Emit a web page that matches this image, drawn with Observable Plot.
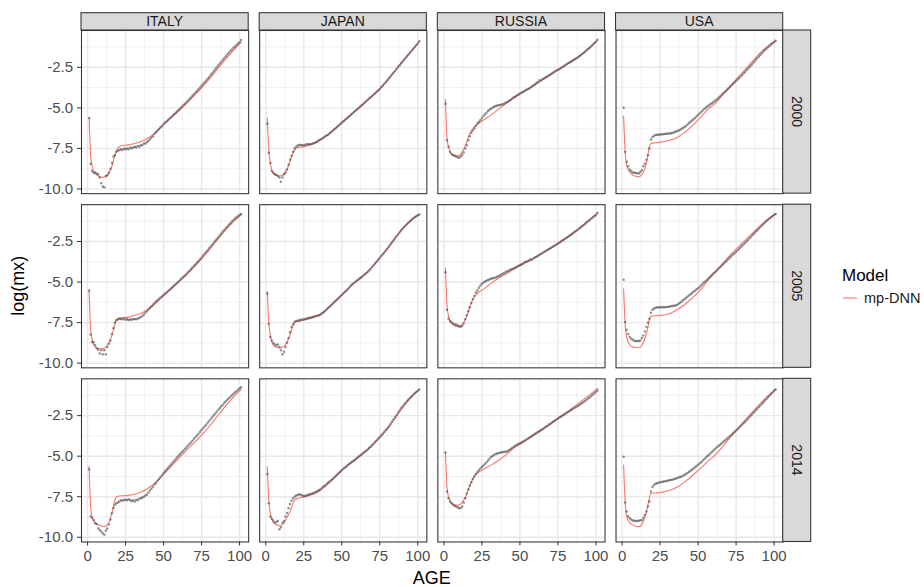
<!DOCTYPE html>
<html><head><meta charset="utf-8">
<script src="https://cdn.jsdelivr.net/npm/d3@7"></script>
<script src="https://cdn.jsdelivr.net/npm/@observablehq/plot@0.6"></script>
<style>
body{margin:0;background:#fff;font-family:"Liberation Sans",Arial,sans-serif;}
#chart{position:relative;width:924px;height:587px;}
</style></head><body><div id="chart"></div>
<script>
const COUNTRIES = ["ITALY","JAPAN","RUSSIA","USA"];
const YEARS = ["2000","2005","2014"];
const AGES = d3.range(1, 102);
const MODEL_AGES = [1,2,3,4,5,6,7,9,11,13,15,16,17,18,19,21,23,26,31,36,41,46,51,56,61,66,71,76,81,86,91,96,101];
const X_TICKS = [0,25,50,75,100];
const X_MINOR = [12.5,37.5,62.5,87.5];
const Y_TICKS = [-10,-7.5,-5,-2.5];
const Y_MINOR = [-8.75,-6.25,-3.75,-1.25];
const SERIES_NAME = "mp-DNN";

const OBS_ITALY_2000 = [-5.63,-8.45,-8.9,-9.0,-8.98,-9.05,-9.1,-9.3,-9.65,-9.85,
-9.9,-9.2,-9.15,-9.0,-8.75,-8.4,-8.0,-7.9,-7.7,-7.65,
-7.6,-7.55,-7.6,-7.5,-7.55,-7.5,-7.55,-7.45,-7.5,-7.45,
-7.4,-7.45,-7.35,-7.4,-7.3,-7.3,-7.2,-7.2,-7.1,-7.05,
-6.95,-6.85,-6.75,-6.6,-6.5,-6.4,-6.3,-6.2,-6.1,-6.0,
-5.9,-5.82,-5.73,-5.65,-5.56,-5.47,-5.38,-5.3,-5.2,-5.12,
-5.02,-4.93,-4.84,-4.75,-4.65,-4.55,-4.46,-4.36,-4.26,-4.16,
-4.06,-3.96,-3.85,-3.75,-3.64,-3.53,-3.42,-3.31,-3.2,-3.09,
-2.97,-2.86,-2.74,-2.62,-2.5,-2.38,-2.27,-2.15,-2.03,-1.92,
-1.81,-1.7,-1.6,-1.5,-1.4,-1.3,-1.21,-1.12,-1.03,-0.95,
-0.82];
const OBS_JAPAN_2000 = [-5.98,-7.76,-8.4,-8.9,-9.0,-9.1,-9.12,-9.2,-9.3,-9.55,
-9.3,-9.1,-9.0,-8.8,-8.5,-8.2,-7.95,-7.7,-7.5,-7.4,
-7.32,-7.3,-7.28,-7.3,-7.3,-7.28,-7.25,-7.25,-7.25,-7.23,
-7.2,-7.17,-7.12,-7.07,-7.0,-6.95,-6.9,-6.83,-6.77,-6.71,
-6.65,-6.57,-6.49,-6.41,-6.33,-6.25,-6.16,-6.08,-6.0,-5.92,
-5.83,-5.75,-5.67,-5.59,-5.51,-5.43,-5.35,-5.26,-5.18,-5.1,
-5.02,-4.93,-4.85,-4.77,-4.69,-4.6,-4.52,-4.43,-4.35,-4.27,
-4.18,-4.1,-4.01,-3.93,-3.83,-3.72,-3.62,-3.51,-3.4,-3.29,
-3.18,-3.06,-2.95,-2.83,-2.72,-2.6,-2.48,-2.37,-2.25,-2.14,
-2.02,-1.91,-1.8,-1.69,-1.58,-1.47,-1.36,-1.25,-1.14,-1.03,
-0.9];
const OBS_RUSSIA_2000 = [-4.75,-7.0,-7.4,-7.7,-7.85,-7.9,-7.95,-8.0,-8.05,-8.08,
-8.0,-7.9,-7.75,-7.5,-7.3,-7.0,-6.75,-6.55,-6.4,-6.25,
-6.1,-5.95,-5.85,-5.75,-5.62,-5.5,-5.4,-5.3,-5.2,-5.12,
-5.05,-4.98,-4.93,-4.89,-4.86,-4.84,-4.82,-4.8,-4.77,-4.72,
-4.67,-4.62,-4.56,-4.5,-4.42,-4.35,-4.3,-4.24,-4.19,-4.12,
-4.07,-4.02,-3.96,-3.9,-3.85,-3.8,-3.74,-3.68,-3.6,-3.55,
-3.45,-3.42,-3.3,-3.32,-3.22,-3.18,-3.12,-3.06,-3.0,-2.94,
-2.88,-2.82,-2.76,-2.7,-2.65,-2.6,-2.54,-2.48,-2.42,-2.36,
-2.3,-2.24,-2.18,-2.12,-2.06,-2.0,-1.95,-1.89,-1.82,-1.75,
-1.68,-1.6,-1.52,-1.42,-1.35,-1.28,-1.18,-1.1,-1.0,-0.92,
-0.8];
const OBS_USA_2000 = [-4.99,-7.71,-8.33,-8.6,-8.8,-8.9,-8.98,-9.0,-9.02,-9.03,
-9.05,-8.95,-8.84,-8.6,-8.45,-8.2,-7.92,-7.5,-6.95,-6.8,
-6.72,-6.68,-6.66,-6.65,-6.64,-6.63,-6.62,-6.61,-6.6,-6.6,
-6.58,-6.57,-6.55,-6.52,-6.48,-6.44,-6.4,-6.36,-6.3,-6.24,
-6.18,-6.12,-6.03,-5.94,-5.86,-5.78,-5.7,-5.62,-5.53,-5.44,
-5.35,-5.26,-5.16,-5.07,-4.99,-4.92,-4.85,-4.78,-4.72,-4.65,
-4.58,-4.5,-4.42,-4.33,-4.24,-4.15,-4.06,-3.97,-3.88,-3.79,
-3.7,-3.61,-3.52,-3.43,-3.34,-3.25,-3.16,-3.07,-2.97,-2.87,
-2.77,-2.67,-2.57,-2.47,-2.37,-2.26,-2.15,-2.04,-1.93,-1.83,
-1.73,-1.63,-1.53,-1.44,-1.35,-1.26,-1.18,-1.1,-1.02,-0.94,
-0.86];
const OBS_ITALY_2005 = [-5.52,-8.23,-8.7,-8.72,-8.9,-9.1,-9.17,-9.4,-9.2,-9.45,
-9.2,-9.45,-9.0,-8.8,-8.6,-8.2,-7.85,-7.5,-7.35,-7.3,
-7.26,-7.28,-7.3,-7.25,-7.32,-7.28,-7.35,-7.3,-7.33,-7.3,
-7.28,-7.3,-7.25,-7.22,-7.15,-7.1,-7.0,-6.9,-6.8,-6.7,
-6.6,-6.5,-6.4,-6.3,-6.2,-6.12,-6.03,-5.95,-5.87,-5.8,
-5.72,-5.64,-5.55,-5.47,-5.38,-5.3,-5.22,-5.13,-5.04,-4.95,
-4.86,-4.77,-4.68,-4.59,-4.5,-4.4,-4.3,-4.2,-4.1,-4.0,
-3.9,-3.8,-3.7,-3.59,-3.48,-3.37,-3.26,-3.15,-3.04,-2.92,
-2.81,-2.7,-2.58,-2.46,-2.35,-2.24,-2.12,-2.0,-1.89,-1.78,
-1.67,-1.57,-1.47,-1.37,-1.27,-1.18,-1.09,-1.0,-0.93,-0.86,
-0.8];
const OBS_JAPAN_2005 = [-5.7,-7.57,-8.39,-8.6,-8.76,-8.85,-8.91,-8.85,-9.0,-9.21,
-9.46,-9.3,-9.0,-8.75,-8.45,-8.1,-7.78,-7.58,-7.45,-7.4,
-7.38,-7.35,-7.33,-7.32,-7.3,-7.28,-7.25,-7.22,-7.2,-7.18,
-7.15,-7.12,-7.1,-7.08,-7.05,-7.0,-6.93,-6.86,-6.78,-6.7,
-6.6,-6.52,-6.43,-6.34,-6.25,-6.16,-6.07,-5.98,-5.89,-5.8,
-5.71,-5.62,-5.53,-5.44,-5.33,-5.22,-5.14,-5.06,-4.98,-4.91,
-4.84,-4.77,-4.7,-4.62,-4.54,-4.46,-4.38,-4.29,-4.19,-4.08,
-3.97,-3.86,-3.75,-3.63,-3.52,-3.4,-3.29,-3.18,-3.07,-2.95,
-2.83,-2.7,-2.57,-2.44,-2.32,-2.19,-2.07,-1.95,-1.83,-1.72,
-1.61,-1.51,-1.42,-1.33,-1.24,-1.16,-1.08,-1.01,-0.94,-0.88,
-0.84];
const OBS_RUSSIA_2005 = [-4.39,-6.71,-7.26,-7.4,-7.47,-7.55,-7.61,-7.64,-7.67,-7.72,
-7.78,-7.7,-7.55,-7.3,-7.05,-6.8,-6.55,-6.3,-6.05,-5.85,
-5.65,-5.5,-5.35,-5.22,-5.11,-5.03,-4.97,-4.92,-4.88,-4.84,
-4.8,-4.77,-4.75,-4.72,-4.68,-4.63,-4.58,-4.52,-4.47,-4.42,
-4.37,-4.33,-4.28,-4.23,-4.19,-4.15,-4.1,-4.05,-4.0,-3.96,
-3.91,-3.85,-3.78,-3.75,-3.72,-3.67,-3.6,-3.63,-3.52,-3.47,
-3.42,-3.37,-3.31,-3.26,-3.2,-3.14,-3.09,-3.03,-2.97,-2.92,
-2.86,-2.8,-2.74,-2.68,-2.62,-2.56,-2.5,-2.44,-2.38,-2.32,
-2.26,-2.2,-2.12,-2.05,-1.98,-1.92,-1.85,-1.78,-1.7,-1.63,
-1.56,-1.48,-1.4,-1.32,-1.25,-1.18,-1.1,-1.02,-0.95,-0.87,
-0.75];
const OBS_USA_2005 = [-4.86,-7.47,-7.94,-8.2,-8.39,-8.5,-8.56,-8.62,-8.64,-8.64,
-8.63,-8.6,-8.45,-8.29,-8.05,-7.78,-7.5,-7.26,-6.9,-6.71,
-6.63,-6.59,-6.57,-6.56,-6.55,-6.55,-6.55,-6.55,-6.54,-6.54,
-6.52,-6.5,-6.48,-6.46,-6.44,-6.41,-6.35,-6.28,-6.21,-6.13,
-6.06,-5.98,-5.9,-5.83,-5.75,-5.68,-5.6,-5.53,-5.45,-5.38,
-5.3,-5.2,-5.11,-5.02,-4.93,-4.84,-4.75,-4.66,-4.57,-4.48,
-4.39,-4.3,-4.21,-4.12,-4.04,-3.95,-3.86,-3.76,-3.67,-3.58,
-3.49,-3.4,-3.31,-3.22,-3.13,-3.04,-2.95,-2.86,-2.77,-2.67,
-2.58,-2.48,-2.39,-2.29,-2.19,-2.09,-1.99,-1.89,-1.8,-1.7,
-1.6,-1.51,-1.42,-1.33,-1.24,-1.16,-1.08,-1.0,-0.93,-0.86,
-0.8];
const OBS_ITALY_2014 = [-5.81,-8.72,-8.8,-8.95,-9.13,-9.2,-9.44,-9.55,-9.65,-9.75,
-9.85,-9.6,-9.45,-9.2,-8.9,-8.52,-8.2,-8.0,-7.9,-7.85,
-7.8,-7.72,-7.75,-7.7,-7.68,-7.72,-7.65,-7.7,-7.78,-7.72,
-7.8,-7.68,-7.72,-7.62,-7.6,-7.55,-7.5,-7.42,-7.38,-7.25,
-7.12,-7.0,-6.88,-6.75,-6.65,-6.52,-6.4,-6.28,-6.16,-6.04,
-5.93,-5.82,-5.71,-5.6,-5.5,-5.39,-5.28,-5.17,-5.06,-4.96,
-4.86,-4.76,-4.66,-4.56,-4.46,-4.36,-4.25,-4.15,-4.04,-3.93,
-3.82,-3.72,-3.61,-3.5,-3.39,-3.28,-3.17,-3.06,-2.94,-2.83,
-2.71,-2.6,-2.48,-2.37,-2.26,-2.14,-2.03,-1.92,-1.82,-1.71,
-1.61,-1.51,-1.42,-1.33,-1.24,-1.15,-1.07,-0.99,-0.91,-0.83,
-0.75];
const OBS_JAPAN_2014 = [-6.09,-7.9,-8.72,-8.85,-8.97,-9.09,-9.05,-9.0,-9.5,-9.38,
-9.1,-9.0,-8.72,-8.5,-8.21,-7.95,-7.74,-7.6,-7.5,-7.42,
-7.39,-7.35,-7.38,-7.42,-7.45,-7.45,-7.4,-7.38,-7.35,-7.32,
-7.28,-7.24,-7.2,-7.15,-7.1,-7.03,-6.95,-6.87,-6.8,-6.72,
-6.64,-6.56,-6.48,-6.4,-6.31,-6.22,-6.13,-6.04,-5.95,-5.86,
-5.77,-5.7,-5.63,-5.55,-5.47,-5.4,-5.33,-5.26,-5.19,-5.11,
-5.04,-4.96,-4.89,-4.81,-4.73,-4.66,-4.58,-4.5,-4.41,-4.31,
-4.21,-4.11,-4.01,-3.91,-3.81,-3.71,-3.6,-3.49,-3.39,-3.28,
-3.15,-3.02,-2.88,-2.74,-2.6,-2.46,-2.32,-2.18,-2.05,-1.93,
-1.81,-1.7,-1.59,-1.49,-1.39,-1.3,-1.21,-1.12,-1.04,-0.96,
-0.88];
const OBS_RUSSIA_2014 = [-4.78,-7.18,-7.6,-7.8,-7.9,-8.0,-8.05,-8.1,-8.15,-8.21,
-8.2,-8.1,-7.85,-7.6,-7.3,-7.05,-6.8,-6.6,-6.4,-6.25,
-6.1,-5.98,-5.87,-5.76,-5.66,-5.57,-5.48,-5.38,-5.27,-5.15,
-5.05,-4.98,-4.92,-4.87,-4.83,-4.8,-4.78,-4.76,-4.74,-4.73,
-4.72,-4.68,-4.62,-4.55,-4.48,-4.42,-4.36,-4.3,-4.25,-4.2,
-4.15,-4.1,-4.04,-3.98,-3.93,-3.87,-3.8,-3.74,-3.68,-3.62,
-3.56,-3.5,-3.44,-3.38,-3.32,-3.26,-3.19,-3.14,-3.05,-3.02,
-2.92,-2.86,-2.8,-2.74,-2.68,-2.62,-2.56,-2.5,-2.44,-2.38,
-2.32,-2.26,-2.2,-2.14,-2.08,-2.02,-1.96,-1.9,-1.84,-1.78,
-1.72,-1.65,-1.58,-1.5,-1.43,-1.36,-1.28,-1.2,-1.12,-1.03,
-0.95];
const OBS_USA_2014 = [-5.03,-7.86,-8.41,-8.7,-8.82,-8.9,-8.97,-8.98,-8.99,-8.99,
-8.98,-8.95,-8.93,-8.8,-8.62,-8.41,-8.1,-7.8,-7.18,-6.9,
-6.77,-6.7,-6.66,-6.63,-6.61,-6.59,-6.57,-6.55,-6.53,-6.51,
-6.49,-6.47,-6.45,-6.42,-6.39,-6.36,-6.32,-6.29,-6.26,-6.21,
-6.16,-6.1,-6.04,-5.97,-5.9,-5.83,-5.76,-5.68,-5.6,-5.53,
-5.45,-5.37,-5.28,-5.19,-5.1,-5.01,-4.92,-4.83,-4.74,-4.65,
-4.56,-4.48,-4.4,-4.32,-4.24,-4.16,-4.08,-4.0,-3.92,-3.84,
-3.76,-3.68,-3.59,-3.5,-3.41,-3.32,-3.23,-3.14,-3.05,-2.96,
-2.87,-2.77,-2.67,-2.57,-2.47,-2.37,-2.27,-2.17,-2.07,-1.97,
-1.87,-1.77,-1.67,-1.57,-1.47,-1.37,-1.27,-1.17,-1.07,-0.97,
-0.88];

const FIT_ITALY_2000 = [-5.6,-7.9,-8.6,-8.9,-9.05,-9.12,-9.2,-9.27,-9.28,-9.15,
-8.85,-8.6,-8.25,-7.95,-7.65,-7.38,-7.32,-7.3,-7.2,-7.05,
-6.8,-6.42,-5.95,-5.52,-5.1,-4.65,-4.15,-3.66,-3.12,-2.55,
-1.98,-1.45,-0.95];
const FIT_JAPAN_2000 = [-5.63,-7.6,-8.4,-8.85,-9.05,-9.12,-9.17,-9.2,-9.15,-8.95,
-8.55,-8.3,-8.0,-7.78,-7.6,-7.45,-7.42,-7.38,-7.22,-6.95,
-6.65,-6.25,-5.84,-5.43,-5.02,-4.6,-4.18,-3.74,-3.2,-2.62,
-2.04,-1.48,-0.92];
const FIT_RUSSIA_2000 = [-4.48,-6.8,-7.4,-7.7,-7.85,-7.92,-7.95,-7.95,-7.85,-7.55,
-7.1,-6.85,-6.6,-6.42,-6.3,-6.1,-5.95,-5.75,-5.45,-5.08,
-4.72,-4.38,-4.07,-3.8,-3.5,-3.2,-2.9,-2.6,-2.3,-2.0,
-1.67,-1.3,-0.82];
const FIT_USA_2000 = [-5.5,-7.7,-8.5,-8.8,-8.95,-9.05,-9.15,-9.22,-9.25,-9.1,
-8.75,-8.4,-7.9,-7.35,-7.2,-7.16,-7.15,-7.1,-7.0,-6.84,
-6.53,-6.13,-5.65,-5.12,-4.75,-4.22,-3.7,-3.15,-2.63,-2.11,
-1.6,-1.18,-0.86];
const FIT_ITALY_2005 = [-5.52,-7.9,-8.55,-8.85,-9.0,-9.05,-9.1,-9.12,-9.08,-8.9,
-8.55,-8.3,-7.95,-7.6,-7.35,-7.22,-7.2,-7.18,-7.05,-6.9,
-6.6,-6.2,-5.75,-5.32,-4.9,-4.47,-3.98,-3.47,-2.9,-2.32,
-1.77,-1.28,-0.86];
const FIT_JAPAN_2005 = [-5.56,-7.5,-8.3,-8.7,-8.9,-8.98,-9.02,-9.05,-9.02,-8.85,
-8.5,-8.25,-7.95,-7.7,-7.52,-7.42,-7.4,-7.33,-7.18,-7.0,
-6.6,-6.15,-5.7,-5.24,-4.85,-4.45,-3.95,-3.38,-2.8,-2.17,
-1.6,-1.16,-0.84];
const FIT_RUSSIA_2005 = [-4.14,-6.4,-7.1,-7.4,-7.55,-7.63,-7.7,-7.75,-7.72,-7.5,
-7.1,-6.85,-6.55,-6.3,-6.1,-5.8,-5.62,-5.45,-5.08,-4.75,
-4.5,-4.2,-3.95,-3.7,-3.45,-3.17,-2.88,-2.57,-2.25,-1.9,
-1.52,-1.12,-0.74];
const FIT_USA_2005 = [-5.42,-7.6,-8.4,-8.7,-8.85,-8.95,-9.0,-9.04,-9.05,-8.9,
-8.5,-8.2,-7.8,-7.3,-7.1,-7.08,-7.07,-7.05,-6.95,-6.72,
-6.4,-6.0,-5.55,-4.95,-4.42,-3.88,-3.35,-2.88,-2.42,-1.97,
-1.52,-1.12,-0.8];
const FIT_ITALY_2014 = [-5.64,-8.1,-8.75,-8.95,-9.08,-9.17,-9.23,-9.3,-9.34,-9.25,
-8.85,-8.5,-8.1,-7.7,-7.5,-7.45,-7.44,-7.43,-7.35,-7.18,
-6.9,-6.5,-6.02,-5.52,-5.03,-4.55,-4.08,-3.6,-3.06,-2.46,
-1.88,-1.35,-0.88];
const FIT_JAPAN_2014 = [-5.64,-7.7,-8.5,-8.9,-9.08,-9.17,-9.22,-9.28,-9.22,-8.95,
-8.6,-8.4,-8.15,-7.9,-7.7,-7.6,-7.55,-7.5,-7.35,-7.1,
-6.7,-6.25,-5.8,-5.42,-5.07,-4.7,-4.25,-3.76,-3.2,-2.55,
-1.88,-1.35,-0.88];
const FIT_RUSSIA_2014 = [-4.72,-6.9,-7.5,-7.75,-7.88,-7.95,-8.0,-8.02,-7.95,-7.7,
-7.35,-7.1,-6.85,-6.6,-6.4,-6.1,-5.98,-5.8,-5.55,-5.25,
-4.9,-4.5,-4.2,-3.9,-3.6,-3.28,-2.95,-2.6,-2.27,-1.93,
-1.57,-1.2,-0.82];
const FIT_USA_2014 = [-5.54,-7.8,-8.72,-8.95,-9.1,-9.18,-9.25,-9.32,-9.34,-9.2,
-8.75,-8.45,-8.0,-7.55,-7.28,-7.27,-7.26,-7.22,-7.12,-6.92,
-6.6,-6.22,-5.8,-5.35,-4.95,-4.42,-3.85,-3.32,-2.78,-2.25,
-1.75,-1.28,-0.88];

const PANELS = [
  ["ITALY","2000",OBS_ITALY_2000,FIT_ITALY_2000],
  ["JAPAN","2000",OBS_JAPAN_2000,FIT_JAPAN_2000],
  ["RUSSIA","2000",OBS_RUSSIA_2000,FIT_RUSSIA_2000],
  ["USA","2000",OBS_USA_2000,FIT_USA_2000],
  ["ITALY","2005",OBS_ITALY_2005,FIT_ITALY_2005],
  ["JAPAN","2005",OBS_JAPAN_2005,FIT_JAPAN_2005],
  ["RUSSIA","2005",OBS_RUSSIA_2005,FIT_RUSSIA_2005],
  ["USA","2005",OBS_USA_2005,FIT_USA_2005],
  ["ITALY","2014",OBS_ITALY_2014,FIT_ITALY_2014],
  ["JAPAN","2014",OBS_JAPAN_2014,FIT_JAPAN_2014],
  ["RUSSIA","2014",OBS_RUSSIA_2014,FIT_RUSSIA_2014],
  ["USA","2014",OBS_USA_2014,FIT_USA_2014]
];

const obsRows = PANELS.flatMap(([c, yr, o]) => o.map((v, i) => ({country: c, year: yr, age: AGES[i], v})));
const fitRows = PANELS.flatMap(([c, yr, , f]) => f.map((v, i) => ({country: c, year: yr, age: MODEL_AGES[i], v, key: c + yr})));

const RED = "#F8766D";
const FONT = '"Liberation Sans", Arial, Helvetica, sans-serif';

const plot = Plot.plot({
  width: 924, height: 587,
  marginLeft: 81, marginRight: 141.3, marginTop: 30, marginBottom: 45.5,
  style: {fontFamily: FONT, fontSize: "15px", background: "#fff", overflow: "visible"},
  fx: {domain: COUNTRIES, axis: null, paddingInner: 0.0617, paddingOuter: 0, round: false},
  fy: {domain: YEARS, axis: null, paddingInner: 0.0632, paddingOuter: 0, round: false},
  x: {domain: [-4, 106], label: null},
  y: {domain: [-10.29, -0.23], label: null},
  marks: [
    Plot.gridX(X_MINOR, {stroke: "#ebebeb", strokeOpacity: 1, strokeWidth: 0.7}),
    Plot.gridY(Y_MINOR, {stroke: "#ebebeb", strokeOpacity: 1, strokeWidth: 0.7}),
    Plot.gridX(X_TICKS, {stroke: "#e8e8e8", strokeOpacity: 1, strokeWidth: 1.4}),
    Plot.gridY(Y_TICKS, {stroke: "#e8e8e8", strokeOpacity: 1, strokeWidth: 1.4}),
    Plot.line(fitRows, {x: "age", y: "v", fx: "country", fy: "year", z: "key", stroke: RED, strokeWidth: 1.1, curve: "monotone-x"}),
    Plot.dot(obsRows, {x: "age", y: "v", fx: "country", fy: "year", r: 1.25, fill: "#4a4a4a", fillOpacity: 0.6, stroke: "none"}),
    Plot.frame({stroke: "#333333", strokeWidth: 1.07}),
    Plot.axisX(X_TICKS, {anchor: "bottom", facetAnchor: "bottom", tickSize: 4, tickPadding: 4, label: null, tickFormat: d => String(d), stroke: "#333333", fill: "#4d4d4d", fontSize: 15}),
    Plot.axisY(Y_TICKS, {anchor: "left", facetAnchor: "left", tickSize: 4, tickPadding: 4.5, label: null, tickFormat: d => d.toFixed(1), stroke: "#333333", fill: "#4d4d4d", fontSize: 15})
  ]
});

document.getElementById("chart").appendChild(plot);

const svg = d3.select(plot);
const fxs = plot.scale("fx"), fys = plot.scale("fy");
const bw = fxs.bandwidth, bh = fys.bandwidth;
const left0 = fxs.apply(COUNTRIES[0]);
const right0 = fxs.apply(COUNTRIES[COUNTRIES.length - 1]) + bw;
const top0 = fys.apply(YEARS[0]);
const bottom0 = fys.apply(YEARS[YEARS.length - 1]) + bh;
const STRIP_H = 17.3, STRIP_W = 28;
const g = svg.append("g").attr("font-family", FONT);

COUNTRIES.forEach(c => {
  const x0 = fxs.apply(c);
  g.append("rect").attr("x", x0).attr("y", top0 - STRIP_H).attr("width", bw).attr("height", STRIP_H)
    .attr("fill", "#d9d9d9").attr("stroke", "#333333").attr("stroke-width", 1.07);
  g.append("text").attr("x", x0 + bw / 2).attr("y", top0 - STRIP_H / 2)
    .attr("text-anchor", "middle").attr("dominant-baseline", "central")
    .attr("font-size", 14).attr("fill", "#1a1a1a").text(c);
});
YEARS.forEach(yr => {
  const y0 = fys.apply(yr);
  g.append("rect").attr("x", right0).attr("y", y0).attr("width", STRIP_W).attr("height", bh)
    .attr("fill", "#d9d9d9").attr("stroke", "#333333").attr("stroke-width", 1.07);
  g.append("text").attr("transform", `translate(${right0 + STRIP_W / 2},${y0 + bh / 2}) rotate(90)`)
    .attr("text-anchor", "middle").attr("dominant-baseline", "central")
    .attr("font-size", 14).attr("fill", "#1a1a1a").text(yr);
});

g.append("text").attr("x", (left0 + right0) / 2).attr("y", 584)
  .attr("text-anchor", "middle").attr("font-size", 18).attr("fill", "#000").text("AGE");
g.append("text").attr("transform", `translate(18,${(top0 + bottom0) / 2}) rotate(-90)`)
  .attr("text-anchor", "middle").attr("dominant-baseline", "central")
  .attr("font-size", 18).attr("fill", "#000").text("log(mx)");

g.append("text").attr("x", 842).attr("y", 281).attr("text-anchor", "start")
  .attr("font-size", 17).attr("fill", "#000").text("Model");
g.append("line").attr("x1", 843).attr("x2", 857).attr("y1", 298).attr("y2", 298)
  .attr("stroke", RED).attr("stroke-width", 1.1);
g.append("text").attr("x", 864).attr("y", 298).attr("text-anchor", "start").attr("dominant-baseline", "central")
  .attr("font-size", 14.5).attr("fill", "#1a1a1a").text(SERIES_NAME);
</script></body></html>
